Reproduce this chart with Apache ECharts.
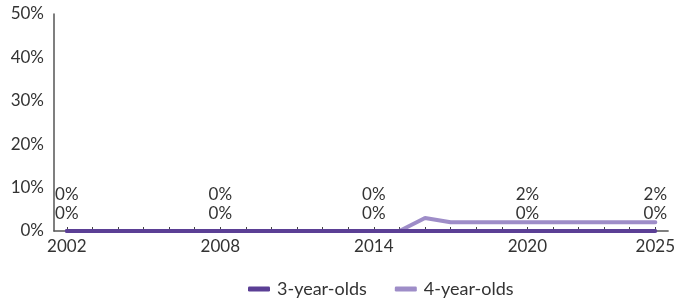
<!DOCTYPE html>
<html>
<head>
<meta charset="utf-8">
<script src="https://cdn.jsdelivr.net/npm/echarts@6/dist/echarts.min.js"></script>
<style>html,body{margin:0;padding:0;background:#fff;}#c{width:678px;height:299px;}</style>
</head>
<body>
<div id="c"></div>
<script>
const years = ['2002','2003','2004','2005','2006','2007','2008','2009','2010','2011','2012','2013','2014','2015','2016','2017','2018','2019','2020','2021','2022','2023','2024','2025'];
const threeYearOlds = [0,0,0,0,0,0,0,0,0,0,0,0,0,0,0,0,0,0,0,0,0,0,0,0];
const fourYearOlds  = [0,0,0,0,0,0,0,0,0,0,0,0,0,0,3,2,2,2,2,2,2,2,2,2];
const labelYears = ['2002','2008','2014','2020','2025'];
const yTicks = [0,10,20,30,40,50];

const font = 'Lato';
const fs = 17;
const chart = echarts.init(document.getElementById('c'), null, {renderer:'canvas'});
chart.setOption({
  animation:false,
  grid:{left:54, right:8.5, top:14, bottom:68, containLabel:false},
  legend:{
    data:['3-year-olds','4-year-olds'],
    left:243, top:275,
    itemWidth:22, itemHeight:5, itemGap:28,
    icon:'roundRect',
    textStyle:{fontFamily:font, fontSize:18, color:'#333', padding:[0,0,0,2]}
  },
  xAxis:{
    type:'category', data:years, boundaryGap:true,
    axisLine:{lineStyle:{color:'#555', width:1.5}},
    axisTick:{show:true, inside:true, alignWithLabel:true, length:4, interval:0, lineStyle:{color:'#444'}},
    axisLabel:{
      interval:(i,v)=>labelYears.includes(v),
      fontFamily:font, fontSize:fs, color:'#333', margin:7
    }
  },
  yAxis:{
    type:'value', min:0, max:50, interval:10,
    axisLine:{show:true, lineStyle:{color:'#555', width:1.5}},
    axisTick:{show:false},
    splitLine:{show:false},
    axisLabel:{formatter:v=>yTicks.includes(v)?v+'%':'', fontFamily:font, fontSize:fs, color:'#333', margin:10}
  },
  series:[
    {
      name:'3-year-olds', type:'line', data:threeYearOlds, z:3,
      symbol:'circle', symbolSize:0, showSymbol:true,
      lineStyle:{color:'#5B3F95', width:4, cap:'round'}, itemStyle:{color:'#5B3F95'},
      label:{
        show:true, position:'top', distance:8,
        fontFamily:font, fontSize:fs, color:'#333', lineHeight:19,
        formatter:p=> labelYears.includes(years[p.dataIndex]) ? (fourYearOlds[p.dataIndex]+'%\n'+threeYearOlds[p.dataIndex]+'%') : ''
      },
      labelLayout:{hideOverlap:false}
    },
    {
      name:'4-year-olds', type:'line', data:fourYearOlds, z:2,
      symbol:'none', lineStyle:{color:'#9E8DC8', width:4, cap:'round'}, itemStyle:{color:'#9E8DC8'}
    }
  ]
});
</script>
</body>
</html>
